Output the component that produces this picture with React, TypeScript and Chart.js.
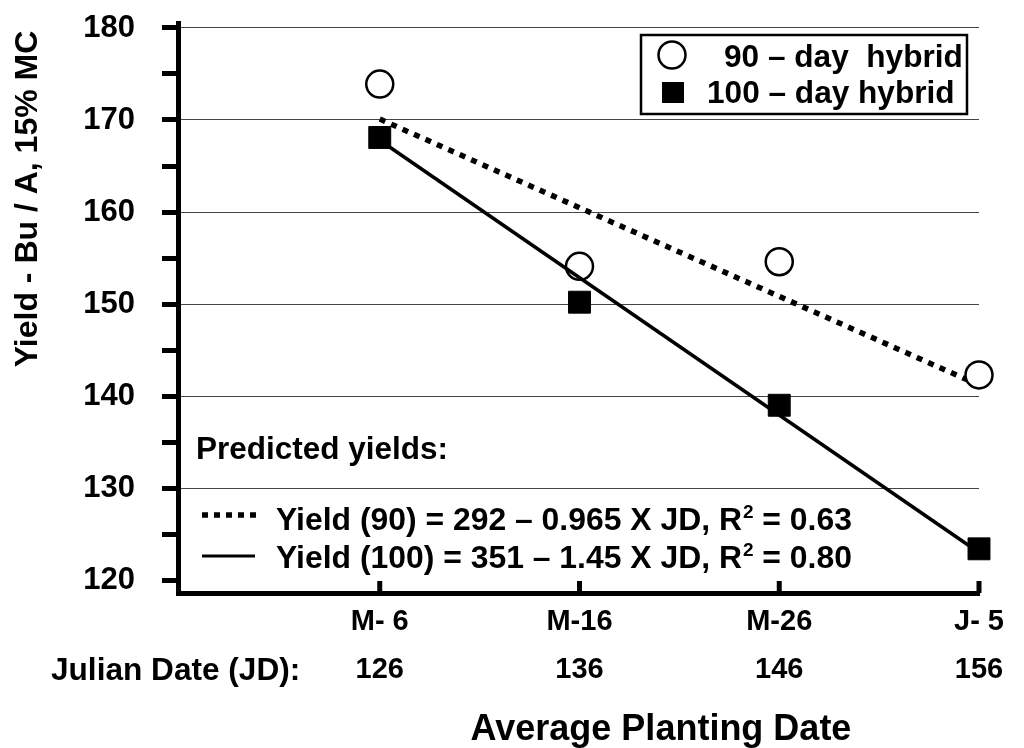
import React, { useEffect, useRef } from 'react';
import { Chart, registerables } from 'chart.js';

Chart.register(...registerables);

const FONT = "'Liberation Sans', Arial, Helvetica, sans-serif";

const julianDates = [126, 136, 146, 156];
const dateLabels = ['M- 6', 'M-16', 'M-26', 'J- 5'];
const yield90 = [173.9, 154.1, 154.6, 142.3];
const yield100 = [168.1, 150.2, 139.0, 123.4];
const fitDates = [126, 156];
const fit90 = [170.1, 141.2];
const fit100 = [167.8, 123.0];
const yTickValues = [120, 125, 130, 135, 140, 145, 150, 155, 160, 165, 170, 175, 180];
const yLabelValues = [120, 130, 140, 150, 160, 170, 180];
const yGridValues = [130, 140, 150, 160, 170, 180];
const legendLabels = ['90 \u2013 day  hybrid', '100 \u2013 day hybrid'];
const predictedTitle = 'Predicted yields:';
const eq90 = ['Yield (90) = 292 \u2013 0.965 X JD, R', '2', ' = 0.63'];
const eq100 = ['Yield (100) = 351 \u2013 1.45 X JD, R', '2', ' = 0.80'];
const yTitle = 'Yield - Bu / A, 15% MC';
const xTitle = 'Average Planting Date';
const jdLabel = 'Julian Date (JD):';

const bold = (size: number) => `bold ${size}px ${FONT}`;

const annotPlugin = {
  id: 'annot',
  afterDraw(chart: any) {
    const ctx: CanvasRenderingContext2D = chart.ctx;
    const xs = chart.scales.x;
    const bottom = chart.chartArea.bottom;
    ctx.save();
    ctx.fillStyle = '#000';
    ctx.strokeStyle = '#000';

    // inward x tick marks
    ctx.lineWidth = 5;
    julianDates.forEach((v) => {
      const px = xs.getPixelForValue(v);
      ctx.beginPath();
      ctx.moveTo(px, bottom);
      ctx.lineTo(px, bottom - 12);
      ctx.stroke();
    });

    // y title
    ctx.save();
    ctx.translate(37, 199);
    ctx.rotate(-Math.PI / 2);
    ctx.font = bold(32);
    ctx.textAlign = 'center';
    ctx.textBaseline = 'alphabetic';
    ctx.fillText(yTitle, 0, 0);
    ctx.restore();

    ctx.textBaseline = 'alphabetic';
    // Julian date label
    ctx.textAlign = 'left';
    ctx.font = bold(31.6);
    ctx.fillText(jdLabel, 51, 680);

    // x title
    ctx.textAlign = 'center';
    ctx.font = bold(36);
    ctx.fillText(xTitle, 661, 740);

    // predicted yields
    ctx.textAlign = 'left';
    ctx.font = bold(31.5);
    ctx.fillText(predictedTitle, 196, 459);

    const drawEq = (parts: string[], x: number, b: number) => {
      ctx.font = bold(31.9);
      ctx.fillText(parts[0], x, b);
      const w0 = ctx.measureText(parts[0]).width;
      ctx.font = bold(19);
      ctx.fillText(parts[1], x + w0 + 1, b - 12);
      const w1 = ctx.measureText(parts[1]).width;
      ctx.font = bold(31.9);
      ctx.fillText(parts[2], x + w0 + 1 + w1, b);
    };

    // dotted sample
    ctx.save();
    ctx.lineWidth = 5.5;
    ctx.setLineDash([6, 6]);
    ctx.beginPath();
    ctx.moveTo(202, 515);
    ctx.lineTo(258, 515);
    ctx.stroke();
    ctx.restore();
    drawEq(eq90, 276, 530);

    // solid sample
    ctx.lineWidth = 3;
    ctx.beginPath();
    ctx.moveTo(202, 556);
    ctx.lineTo(255, 556);
    ctx.stroke();
    drawEq(eq100, 276, 568);

    // legend box
    ctx.fillStyle = '#fff';
    ctx.fillRect(641, 35, 326, 79);
    ctx.fillStyle = '#000';
    ctx.lineWidth = 2.5;
    ctx.strokeRect(641, 35, 326, 79);
    ctx.beginPath();
    ctx.arc(672, 55, 13.5, 0, Math.PI * 2);
    ctx.stroke();
    ctx.fillRect(662, 82, 22, 21);
    ctx.font = bold(31.6);
    ctx.textAlign = 'left';
    ctx.fillText(legendLabels[0], 724, 67);
    ctx.fillText(legendLabels[1], 707, 103);

    ctx.restore();
  },
};

export default function App() {
  const ref = useRef<HTMLCanvasElement | null>(null);

  useEffect(() => {
    if (!ref.current) return;
    const chart = new Chart(ref.current, {
      type: 'scatter',
      data: {
        datasets: [
          {
            label: '100-day points',
            data: julianDates.map((x, i) => ({ x, y: yield100[i] })),
            pointStyle: 'rect',
            pointRadius: 15.5,
            pointBorderWidth: 1,
            borderColor: '#000',
            backgroundColor: '#000',
            showLine: false,
            order: 1,
            clip: false,
          } as any,
          {
            label: '100-day fit',
            data: fitDates.map((x, i) => ({ x, y: fit100[i] })),
            showLine: true,
            borderColor: '#000',
            borderWidth: 3.5,
            pointRadius: 0,
            order: 2,
            clip: false,
          } as any,
          {
            label: '90-day points',
            data: julianDates.map((x, i) => ({ x, y: yield90[i] })),
            pointStyle: 'circle',
            pointRadius: 13.5,
            pointBorderWidth: 2.5,
            borderColor: '#000',
            backgroundColor: '#fff',
            showLine: false,
            order: 3,
            clip: false,
          } as any,
          {
            label: '90-day fit',
            data: fitDates.map((x, i) => ({ x, y: fit90[i] })),
            showLine: true,
            borderColor: '#000',
            borderWidth: 5.5,
            borderDash: [6, 6.5],
            borderCapStyle: 'butt',
            pointRadius: 0,
            order: 4,
            clip: false,
          } as any,
        ],
      },
      options: {
        animation: false,
        responsive: false,
        maintainAspectRatio: false,
        devicePixelRatio: 1,
        events: [],
        layout: { padding: { left: 0, top: 23, right: 45, bottom: 0 } },
        plugins: { legend: { display: false }, tooltip: { enabled: false } },
        scales: {
          x: {
            type: 'linear',
            min: 115.9,
            max: 156,
            afterFit: (scale: any) => {
              scale.height = 155;
              scale.paddingLeft = 0;
              scale.paddingRight = 0;
              scale.paddingTop = 0;
              scale.paddingBottom = 0;
            },
            afterBuildTicks: (scale: any) => {
              scale.ticks = julianDates.map((v) => ({ value: v }));
            },
            grid: { display: true, drawOnChartArea: false, drawTicks: false },
            border: { display: true, color: '#000', width: 5 },
            ticks: {
              autoSkip: false,
              maxRotation: 0,
              minRotation: 0,
              padding: 5,
              color: '#000',
              font: { family: FONT, size: 29, weight: 'bold', lineHeight: 48 / 29 },
              callback: (value: any) => {
                const i = julianDates.indexOf(Number(value));
                return [dateLabels[i], String(value)];
              },
            },
          },
          y: {
            type: 'linear',
            min: 118.6,
            max: 180.54,
            afterFit: (scale: any) => {
              scale.width = 178;
              scale.paddingTop = 0;
              scale.paddingBottom = 0;
              scale.paddingLeft = 0;
              scale.paddingRight = 0;
            },
            afterBuildTicks: (scale: any) => {
              scale.ticks = yTickValues.map((v) => ({ value: v }));
            },
            grid: {
              display: true,
              drawOnChartArea: true,
              drawTicks: true,
              tickLength: 16,
              tickWidth: 5,
              tickColor: '#000',
              lineWidth: 1,
              color: (c: any) => (c.tick && yGridValues.includes(c.tick.value) ? '#444' : 'rgba(0,0,0,0)'),
            },
            border: { display: true, color: '#000', width: 5 },
            ticks: {
              autoSkip: false,
              padding: 27,
              color: '#000',
              font: { family: FONT, size: 31, weight: 'bold' },
              callback: (value: any) => (yLabelValues.includes(Number(value)) ? String(value) : ''),
            },
          },
        },
      },
      plugins: [annotPlugin],
    } as any);
    return () => chart.destroy();
  }, []);

  return (
    <div style={{ position: 'fixed', left: 0, top: 0, width: 1024, height: 748, background: '#fff' }}>
      <canvas ref={ref} width={1024} height={748} style={{ display: 'block', width: 1024, height: 748 }} />
    </div>
  );
}
